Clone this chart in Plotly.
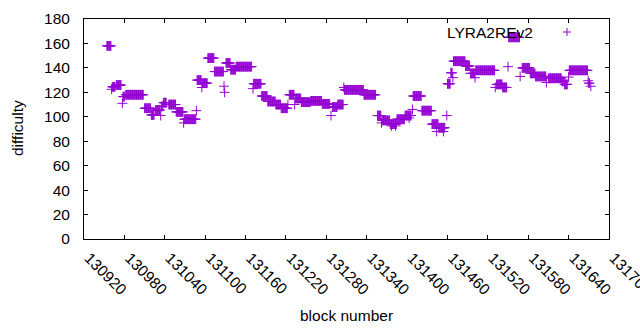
import plotly.graph_objects as go

# Difficulty runs: (first block, last block, difficulty)
run_start = [130954, 130961, 130962, 130968, 130977, 130978, 130982, 131010, 131020, 131026,
             131034, 131035, 131038, 131046, 131057, 131068, 131069, 131087, 131088, 131095,
             131096, 131104, 131114, 131128, 131129, 131131, 131138, 131146, 131171, 131172,
             131184, 131193, 131205, 131213, 131223, 131225, 131233, 131234, 131243, 131257,
             131274, 131287, 131289, 131297, 131306, 131307, 131336, 131356, 131362, 131363,
             131375, 131377, 131383, 131385, 131397, 131403, 131408, 131409, 131422, 131437,
             131444, 131447, 131454, 131459, 131460, 131465, 131468, 131469, 131487, 131494,
             131501, 131502, 131531, 131533, 131542, 131550, 131551, 131568, 131571, 131583,
             131591, 131607, 131610, 131630, 131634, 131640, 131641, 131669, 131670, 131673]
run_end = [130960, 130961, 130966, 130975, 130977, 130980, 131008, 131019, 131024, 131033,
           131034, 131037, 131042, 131056, 131067, 131068, 131086, 131087, 131094, 131095,
           131103, 131113, 131127, 131128, 131129, 131137, 131145, 131169, 131171, 131183,
           131192, 131204, 131212, 131222, 131223, 131232, 131233, 131242, 131256, 131273,
           131285, 131287, 131296, 131305, 131306, 131335, 131353, 131361, 131362, 131374,
           131384, 131377, 131383, 131396, 131406, 131403, 131408, 131421, 131436, 131446,
           131444, 131456, 131454, 131459, 131464, 131467, 131468, 131486, 131493, 131500,
           131501, 131530, 131531, 131541, 131548, 131550, 131567, 131568, 131582, 131590,
           131606, 131607, 131629, 131633, 131638, 131640, 131668, 131669, 131671, 131673]
run_value = [158, 122.5, 124.5, 126, 111, 116.5, 118, 107, 101.5, 105.5,
             101, 108.5, 111.5, 110, 104, 95, 98, 105, 130, 124,
             127.5, 148, 137, 125, 120, 144, 138.5, 141, 123, 127,
             117, 112.5, 110, 107, 110, 118, 110, 115, 112, 113,
             110.5, 101, 108, 110, 124, 122, 118, 101, 95, 97,
             94, 92.5, 92.5, 98, 101, 99, 106, 117, 105, 94,
             88, 91, 88, 101, 127, 136, 132, 145.5, 141.5, 135.5,
             132, 138, 124, 126.5, 124, 141, 165, 133, 140, 135.5,
             133, 128, 131.5, 129, 126.5, 132.5, 138, 129.5, 127.5, 125]

series_name = "LYRA2REv2"
x_ticks = list(range(130920, 131701, 60))
y_ticks = list(range(0, 181, 20))

blocks, difficulty = [], []
for s, e, v in zip(run_start, run_end, run_value):
    for b in range(s, e + 1):
        blocks.append(b)
        difficulty.append(v)

color = "#9400D3"
font = dict(family="Liberation Sans, Arial, sans-serif", size=15.5, color="black")

fig = go.Figure()
fig.add_trace(go.Scatter(
    x=blocks, y=difficulty, mode="markers", name=series_name,
    marker=dict(symbol="cross-thin", size=7, color=color,
                line=dict(color=color, width=1)),
    showlegend=False, hoverinfo="x+y"))

L, R, T, B = 84, 31, 19, 91
W, H = 640, 330
pw, ph = W - L - R, H - T - B

def px2paper(px, py):
    return (px - L) / pw, (H - B - py) / ph

axis_common = dict(showline=True, linecolor="black", linewidth=1, mirror="allticks",
                   ticks="inside", ticklen=4, tickcolor="black", tickwidth=1,
                   showgrid=False, zeroline=False, tickfont=font)

fig.update_layout(
    width=W, height=H, margin=dict(l=L, r=R, t=T, b=B, autoexpand=False),
    paper_bgcolor="white", plot_bgcolor="white", font=font,
    xaxis=dict(range=[x_ticks[0], x_ticks[-1]], tickvals=x_ticks,
               ticktext=[str(v) for v in x_ticks], tickangle=45,
               ticklabelstandoff=3, ticklabelshift=5, ticklabeloverflow="allow",
               **axis_common),
    yaxis=dict(range=[y_ticks[0], y_ticks[-1]], tickvals=y_ticks,
               ticklabelstandoff=10, **axis_common),
)

# axis titles
fig.add_annotation(text="block number", xref="paper", yref="paper",
                   x=px2paper(346, 0)[0], y=px2paper(0, 315)[1],
                   xanchor="center", yanchor="middle", showarrow=False, font=font)
fig.add_annotation(text="difficulty", xref="paper", yref="paper",
                   x=px2paper(17, 0)[0], y=px2paper(0, 128)[1], textangle=-90,
                   xanchor="center", yanchor="middle", showarrow=False, font=font)

# gnuplot-style key: text then sample on the right
kx, ky = px2paper(535, 32)
fig.add_annotation(text=series_name, xref="paper", yref="paper", x=kx, y=ky,
                   xanchor="right", yanchor="middle", showarrow=False, font=font)
sx, sy = px2paper(567, 32)
hx, hy = 4 / pw, 4 / ph
fig.add_shape(type="line", xref="paper", yref="paper", x0=sx - hx, x1=sx + hx, y0=sy, y1=sy,
              line=dict(color=color, width=1))
fig.add_shape(type="line", xref="paper", yref="paper", x0=sx, x1=sx, y0=sy - hy, y1=sy + hy,
              line=dict(color=color, width=1))

fig.write_html("out.html", config={"displayModeBar": False},
               post_script="document.body.style.margin='0';document.body.style.overflow='hidden';")
